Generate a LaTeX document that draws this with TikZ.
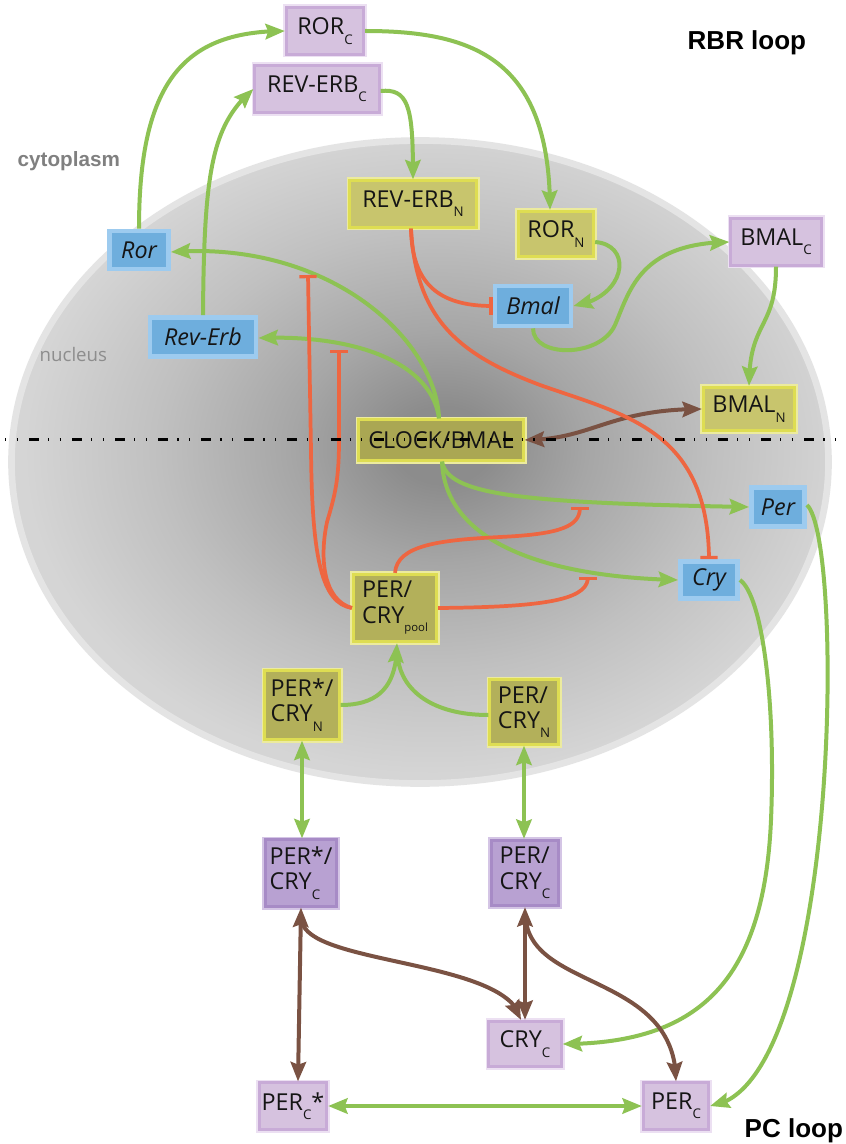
\documentclass[tikz,border=0pt]{standalone}
\usepackage{fontspec}
\setmainfont{Open Sans}
\newfontfamily\tagfont{Liberation Sans}
\usetikzlibrary{arrows.meta,bending,calc}

% palette
\definecolor{txt}{HTML}{151515}
\definecolor{actc}{HTML}{8DC253}
\definecolor{inhc}{HTML}{EE6641}
\definecolor{cpxc}{HTML}{7A5243}
\definecolor{genef}{HTML}{6EAEDD}
\definecolor{geneb}{HTML}{9DCBEF}
\definecolor{pclf}{HTML}{D6C2DF}
\definecolor{pclb}{HTML}{C8ABD7}
\definecolor{pclh}{HTML}{ECE0F2}
\definecolor{pcdf}{HTML}{B8A1D2}
\definecolor{pcdb}{HTML}{A78BC6}
\definecolor{pcdh}{HTML}{D4C5E5}
\definecolor{nucf}{HTML}{C8C56D}
\definecolor{nucfd}{HTML}{AAA753}
\definecolor{nucfm}{HTML}{B3B05A}
\definecolor{nucb}{HTML}{DEDD52}
\definecolor{nuch}{HTML}{ECEB9E}
\definecolor{nucin}{HTML}{8C8C8C}
\definecolor{nucmid}{HTML}{A6A6A6}
\definecolor{nucmid2}{HTML}{C0C0C0}
\definecolor{nucout}{HTML}{D5D5D5}
\definecolor{nucrim}{HTML}{E4E4E4}
\definecolor{labgray}{HTML}{808080}

% nucleus gradient, darkest a little above and right of the centre
\pgfdeclareradialshading{nucleusshade}{\pgfpoint{1.5bp}{1.4bp}}{%
  color(0bp)=(nucin); color(3bp)=(nucin); color(9bp)=(nucmid);
  color(17bp)=(nucmid2); color(25bp)=(nucout); color(50bp)=(nucout)}

\newcommand\nodefont{\fontsize{17.5}{19}\selectfont}
\newcommand\lo[1]{\raisebox{-7pt}{\fontsize{10}{10}\selectfont #1}}
\newcommand\lopool[1]{\raisebox{-6.5pt}{\fontsize{8.5}{9}\selectfont #1}}

\tikzset{
  box/.style={inner sep=0pt, align=left, text=txt, font=\nodefont, line width=2.2pt},
  sz/.style 2 args={minimum width={#1*0.75pt-5pt}, minimum height={#2*0.75pt-5pt}},
  pcl/.style={box, fill=pclf, draw=pclb, preaction={draw=pclh, line width=5pt}},
  pcd/.style={box, fill=pcdf, draw=pcdb, preaction={draw=pcdh, line width=5pt}},
  nuc/.style={box, fill=nucf, draw=nucb, preaction={draw=nuch, line width=5pt}},
  gene/.style={box, fill=genef, draw=geneb, line width=3.4pt, font=\nodefont\itshape},
  act/.style={draw=actc, line width=3pt, ->},
  actplain/.style={draw=actc, line width=3pt},
  both/.style={draw=actc, line width=3pt, <->},
  cpx/.style={draw=cpxc, line width=3pt},
  inh/.style={draw=inhc, line width=2.8pt, -{Bar[width=13pt,line width=2.4pt]}},
}

\begin{document}
\begin{tikzpicture}[x=0.75pt,y=-0.75pt,
  >={Stealth[length=14.5pt,width=11.5pt,inset=2pt]}]
\useasboundingbox (0,0) rectangle (845,1144);
\fill[white] (0,0) rectangle (845,1144);

% nucleus
\shade[shading=nucleusshade] (420,462) ellipse [x radius=408.5, y radius=321.5];
\draw[nucrim, line width=5pt] (420,462) ellipse [x radius=408.5, y radius=321.5];

% compartment labels
\node[anchor=base west, text=labgray, font=\tagfont\bfseries\fontsize{15.5}{18}\selectfont] (cyto) at (13,167) {cytoplasm};
\node[anchor=base west, text=labgray!90, font=\fontsize{14}{16}\selectfont] (nucl) at (35,362) {nucleus};
\node[anchor=base west, text=black, font=\tagfont\bfseries\fontsize{19.5}{22}\selectfont] (rbr) at (683,50) {RBR loop};
\node[anchor=base west, text=black, font=\tagfont\bfseries\fontsize{19.5}{22}\selectfont] (pcl) at (740,1137) {PC loop};

% species and genes
\node[pcl, sz={84}{53}]  (rorc)   at (325,31)  {ROR\lo{C}};
\node[pcl, sz={131}{54}] (revc)   at (317,89)  {REV-ERB\lo{C}};
\node[nuc, sz={133}{53}] (revn)   at (413,204) {REV-ERB\lo{N}};
\node[nuc, sz={82}{52}]  (rorn)   at (556,234) {ROR\lo{N}};
\node[gene, sz={83}{47}] (bmal)   at (533,306) {Bmal};
\node[pcl, sz={97}{53}]  (bmalc)  at (776,242) {BMAL\lo{C}};
\node[nuc, sz={98}{50}]  (bmaln)  at (749,409) {BMAL\lo{N}};
\node[gene, sz={66}{45}] (ror)    at (139,250) {Ror};
\node[gene, sz={113}{46}] (reverb) at (203,337) {Rev-Erb};
\node[nuc, fill=nucfd, sz={171}{47}] (clock) at (441,440) {CLOCK/BMAL};
\node[gene, sz={60}{46}] (per)    at (778,507) {Per};
\node[gene, sz={64}{44}] (cry)    at (709,580) {Cry};
\node[nuc, fill=nucfm, sz={90}{74}] (pool) at (395,608) {PER/\\CRY\lopool{pool}};
\node[nuc, fill=nucfm, sz={81}{75}] (pcsn) at (302,705) {PER*/\\CRY\lo{N}};
\node[nuc, fill=nucfm, sz={75}{71}] (pcn)  at (524,712) {PER/\\CRY\lo{N}};
\node[pcd, sz={78}{73}]  (pcsc)   at (301,873) {PER*/\\CRY\lo{C}};
\node[pcd, sz={74}{72}]  (pcc)    at (525,873) {PER/\\CRY\lo{C}};
\node[pcl, sz={79}{52}]  (cryc)   at (525,1044) {CRY\lo{C}};
\node[pcl, sz={74}{53}]  (perstar) at (293,1106) {PER\lo{C}*};
\node[pcl, sz={72}{53}]  (perc)   at (676,1106) {PER\lo{C}};

% ends of the inhibition bars
\coordinate (barror) at (308,275);
\coordinate (barrev) at (339,350);
\coordinate (barper) at (580,507);
\coordinate (barcry) at (588,577);

% activation / transport (green)
\draw[act] (ror.north) .. controls (139,80) and (185,31) .. (rorc.west);
\draw[act] (reverb.north) .. controls (204,170) and (212,125) .. (revc.west);
\draw[act] ($(revc.east)+(0,2)$) .. controls (410,88) and (413,110) .. (revn.north);
\draw[act] (rorc.east) .. controls (475,31) and (550,60) .. ($(rorn.north)+(-6,0)$);
\draw[act] ($(rorn.east)+(0,8)$) .. controls (634,245) and (626,298) .. (bmal.east);
\draw[act] (bmal.south) .. controls (533,358) and (600,358) .. (615,325)
                        .. controls (630,290) and (640,243) .. (bmalc.west);
\draw[act] (bmalc.south) .. controls (776,330) and (749,320) .. (bmaln.north);
\draw[act] ($(clock.north)+(-2,0)$) .. controls (436,340) and (330,240) .. ($(ror.east)+(0,2)$);
\draw[act] ($(clock.north)+(-2,0)$) .. controls (432,365) and (360,334) .. ($(reverb.east)+(0,1)$);
\draw[act] ($(clock.south)+(1,0)$) .. controls (448,495) and (520,503) .. (per.west);
\draw[act] ($(clock.south)+(1,0)$) .. controls (445,540) and (540,577) .. (cry.west);
\draw[act] ($(per.east)+(0,-2)$) .. controls (845,540) and (840,1090) .. (perc.east);
\draw[act] (cry.east) .. controls (762,595) and (776,700) .. (771,820)
                      .. controls (764,980) and (700,1044) .. (cryc.east);
\draw[act] (pcsn.east) .. controls (380,705) and (397,685) .. ($(pool.south)+(2,0)$);
\draw[actplain] ($(pcn.west)+(0,3)$) .. controls (432,715) and (402,690) .. ($(pool.south)+(3,16)$);
\draw[both] (pcsn.south) -- (pcsn.south |- pcsc.north);
\draw[both] (pcn.south) -- (pcn.south |- pcc.north);
\draw[both] (perstar.east) -- (perc.west);

% complex formation (brown)
\draw[cpx, <->] (clock.east) .. controls (592,440) and (608,409) .. (bmaln.west);
\draw[cpx, <->] (pcsc.south) -- ($(perstar.north)+(5,0)$);
\draw[cpx, ->] ($(pcsc.south)+(1,14)$) .. controls (310,965) and (510,960) .. ($(cryc.north)+(-4,0)$);
\draw[cpx, <->] (pcc.south) -- (pcc.south |- cryc.north);
\draw[cpx, ->] ($(pcc.south)+(1,14)$) .. controls (535,990) and (676,975) .. (perc.north);

% repression (red)
\draw[inh] ($(revn.south)+(-2,0)$) .. controls (412,285) and (440,306) .. (bmal.west);
\draw[inh] ($(revn.south)+(-2,0)$) .. controls (416,320) and (460,355) .. (540,385)
                                   .. controls (625,415) and (708,430) .. (cry.north);
\draw[inh] (pool.west) .. controls (322,603) and (312,560) .. (311,450) -- (barror);
\draw[inh] (pool.west) .. controls (324,600) and (319,560) .. (327,522)
                       .. controls (335,495) and (339,480) .. (339,440) -- (barrev);
\draw[inh] (pool.north) .. controls (397,545) and (440,540) .. (500,537)
                        .. controls (565,534) and (580,525) .. (barper);
\draw[inh] (pool.east) .. controls (545,607) and (588,600) .. (barcry);

% nuclear envelope section line
\draw[black, line width=2.25pt,
      dash pattern=on 7.5pt off 6.8pt on 0.9pt off 7.8pt on 0.9pt off 8.4pt]
      (-14,439) -- (860,439);
\end{tikzpicture}
\end{document}
